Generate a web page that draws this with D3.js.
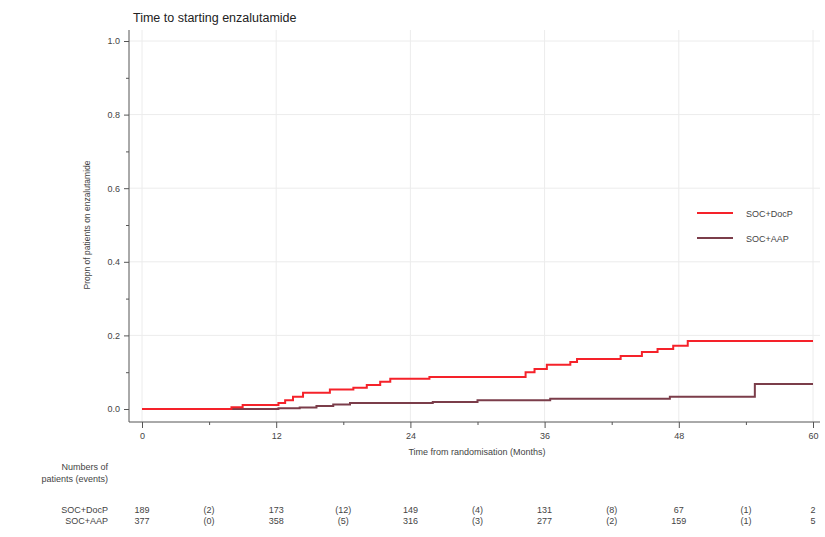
<!DOCTYPE html>
<html>
<head>
<meta charset="utf-8">
<script src="https://cdn.jsdelivr.net/npm/d3@7"></script>
<style>
  body { margin: 0; background: #fff; }
  svg { font-family: "Liberation Sans", Arial, sans-serif; }
</style>
</head>
<body>
<svg id="chart" width="825" height="537"></svg>
<script>
// step points (months, cumulative proportion started enzalutamide)
const docpTimes = [0, 8.0, 9.0, 12.2, 12.8, 13.5, 14.4, 16.8, 18.9, 20.1, 21.3, 22.2, 25.7, 34.3, 35.1, 36.2, 38.3, 38.9, 42.8, 44.7, 46.1, 47.5, 48.8];
const docpProp = [0, 0.005, 0.011, 0.016, 0.024, 0.033, 0.044, 0.053, 0.058, 0.065, 0.074, 0.082, 0.087, 0.100, 0.109, 0.120, 0.128, 0.136, 0.144, 0.155, 0.163, 0.172, 0.185];
const aapTimes = [0, 12.2, 14.1, 15.6, 17.1, 18.6, 26.0, 30.0, 36.5, 47.2, 54.8];
const aapProp = [0, 0.002, 0.004, 0.008, 0.012, 0.016, 0.019, 0.024, 0.028, 0.033, 0.068];
const endMonth = 60;

const seriesNames = ['SOC+DocP', 'SOC+AAP'];
const seriesColors = ['#f5222a', '#7b3d4a'];

const xTicks = [0, 12, 24, 36, 48, 60];
const xMinor = [6, 18, 30, 42, 54];
const yTicks = [0, 0.2, 0.4, 0.6, 0.8, 1.0];
const yMinor = [0.1, 0.3, 0.5, 0.7, 0.9];

// numbers at risk row: at-risk counts at ticks, events between ticks
const riskDocp = ['189', '(2)', '173', '(12)', '149', '(4)', '131', '(8)', '67', '(1)', '2'];
const riskAap = ['377', '(0)', '358', '(5)', '316', '(3)', '277', '(2)', '159', '(1)', '5'];
const riskMonths = [0, 6, 12, 18, 24, 30, 36, 42, 48, 54, 60];

const svg = d3.select('#chart');
const x = d3.scaleLinear().domain([0, 60]).range([142, 813]);
const y = d3.scaleLinear().domain([0, 1]).range([409, 41]);
const axisX = 129, axisY = 422;
const textCol = '#444';

// gridlines
const grid = svg.append('g').attr('stroke', '#ececec').attr('stroke-width', 1);
grid.selectAll('line.v').data(xTicks).join('line')
  .attr('x1', d => x(d)).attr('x2', d => x(d))
  .attr('y1', 30).attr('y2', axisY);
grid.selectAll('line.h').data(yTicks.slice(1)).join('line')
  .attr('x1', axisX).attr('x2', 820)
  .attr('y1', d => y(d)).attr('y2', d => y(d));

// y axis
const yAxis = svg.append('g').attr('transform', `translate(${axisX},0)`)
  .call(d3.axisLeft(y).tickValues(yTicks).tickFormat(d3.format('.1f')).tickSize(5).tickPadding(4));
svg.append('g').attr('transform', `translate(${axisX},0)`)
  .call(d3.axisLeft(y).tickValues(yMinor).tickFormat('').tickSize(3))
  .select('.domain').remove();
yAxis.select('.domain').attr('d', `M0,30V${axisY}`);

// x axis
const xAxis = svg.append('g').attr('transform', `translate(0,${axisY})`)
  .call(d3.axisBottom(x).tickValues(xTicks).tickFormat(d3.format('d')).tickSize(6).tickPadding(5));
svg.append('g').attr('transform', `translate(0,${axisY})`)
  .call(d3.axisBottom(x).tickValues(xMinor).tickFormat('').tickSize(3))
  .select('.domain').remove();
xAxis.select('.domain').attr('d', `M${axisX},0H820`);

svg.selectAll('.domain, .tick line').attr('stroke', '#555');
svg.selectAll('.tick text').attr('fill', textCol).attr('font-size', 9)
  .attr('font-family', '"Liberation Sans", Arial, sans-serif');

// axis titles
svg.append('text').attr('x', 477).attr('y', 455).attr('text-anchor', 'middle')
  .attr('font-size', 9).attr('fill', textCol).text('Time from randomisation (Months)');
svg.append('text').attr('transform', 'translate(90,225) rotate(-90)').attr('text-anchor', 'middle')
  .attr('font-size', 8.5).attr('fill', textCol).text('Propn of patients on enzalutamide');

svg.append('text').attr('x', 133).attr('y', 22)
  .attr('font-size', 12.5).attr('fill', '#222').text('Time to starting enzalutamide');

// step curves
const line = d3.line().x(d => x(d[0])).y(d => y(d[1])).curve(d3.curveStepAfter);
const toPts = (t, p) => t.map((d, i) => [d, p[i]]).concat([[endMonth, p[p.length - 1]]]);
const curves = [toPts(aapTimes, aapProp), toPts(docpTimes, docpProp)];
const curveColors = [seriesColors[1], seriesColors[0]];
svg.append('g').selectAll('path').data(curves).join('path')
  .attr('d', line).attr('fill', 'none')
  .attr('stroke', (d, i) => curveColors[i]).attr('stroke-width', 2);

// legend
const lg = svg.append('g');
seriesNames.forEach((name, i) => {
  const ly = 213 + i * 25;
  lg.append('line').attr('x1', 697).attr('x2', 733).attr('y1', ly).attr('y2', ly)
    .attr('stroke', seriesColors[i]).attr('stroke-width', 2);
  lg.append('text').attr('x', 746).attr('y', ly + 3.5).attr('font-size', 9)
    .attr('fill', textCol).text(name);
});

// numbers at risk
const rt = svg.append('g').attr('font-size', 9).attr('fill', textCol);
rt.append('text').attr('x', 108).attr('y', 470).attr('text-anchor', 'end').text('Numbers of');
rt.append('text').attr('x', 108).attr('y', 482).attr('text-anchor', 'end').text('patients (events)');
[riskDocp, riskAap].forEach((row, r) => {
  const ry = 513 + r * 11;
  rt.append('text').attr('x', 108).attr('y', ry).attr('text-anchor', 'end').text(seriesNames[r]);
  rt.selectAll(null).data(row).join('text')
    .attr('x', (d, i) => x(riskMonths[i])).attr('y', ry)
    .attr('text-anchor', 'middle').text(d => d);
});
</script>
</body>
</html>
